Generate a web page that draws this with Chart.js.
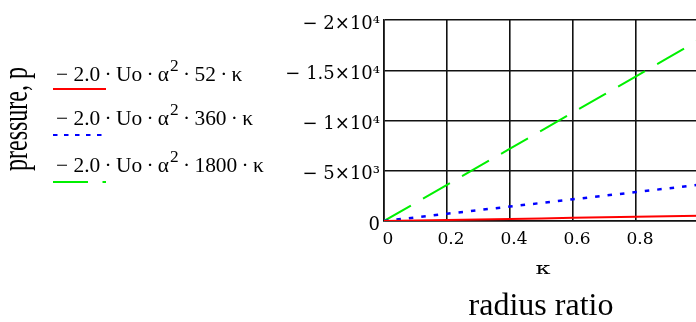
<!DOCTYPE html>
<html>
<head>
<meta charset="utf-8">
<script src="https://cdn.jsdelivr.net/npm/chart.js@4.4.1/dist/chart.umd.min.js"></script>
<style>
  html, body { margin:0; padding:0; background:#fff; overflow:hidden; }
  #wrap { width:720px; height:322px; }
</style>
</head>
<body>
<div id="wrap"><canvas id="chart" width="720" height="322"></canvas></div>
<script>
// radius ratio samples and the three pressure curves
const kappa = [0, 0.1, 0.2, 0.3, 0.4, 0.5, 0.6, 0.7, 0.8, 0.9, 1.0];
const p52   = [0, -52, -104, -156, -208, -260, -312, -364, -416, -468, -520];
const p360  = [0, -360, -720, -1080, -1440, -1800, -2160, -2520, -2880, -3240, -3600];
const p1800 = [0, -1800, -3600, -5400, -7200, -9000, -10800, -12600, -14400, -16200, -18000];

const seriesNames = [
  '\u2212 2.0\u2009\u00b7\u2009Uo\u2009\u00b7\u2009\u03b1\u00b2\u2009\u00b7\u200952\u2009\u00b7\u2009\u03ba',
  '\u2212 2.0\u2009\u00b7\u2009Uo\u2009\u00b7\u2009\u03b1\u00b2\u2009\u00b7\u2009360\u2009\u00b7\u2009\u03ba',
  '\u2212 2.0\u2009\u00b7\u2009Uo\u2009\u00b7\u2009\u03b1\u00b2\u2009\u00b7\u20091800\u2009\u00b7\u2009\u03ba'
];
const yTicks = [0, -5000, -10000, -15000, -20000];
const yTickLabels = ['0', '\u2212 5\u00d710\u00b3', '\u2212 1\u00d710\u2074', '\u2212 1.5\u00d710\u2074', '\u2212 2\u00d710\u2074'];
const xTicks = [0, 0.2, 0.4, 0.6, 0.8, 1];

const pts = arr => kappa.map((k, i) => ({x: k, y: arr[i]}));

// legend + axis titles drawn beside the plot, Mathcad style
const extras = {
  id: 'extras',
  afterDraw(chart){
    const ctx = chart.ctx;
    const rows = [{t:81, l:89}, {t:125, l:135}, {t:172, l:182}];
    ctx.save();
    chart.data.datasets.forEach((ds, i) => {
      // text with a real raised superscript for the "²"
      const [a, b] = ds.label.split('\u00b2');
      ctx.save();
      ctx.translate(56, rows[i].t);
      ctx.scale(1.02, 1);
      ctx.fillStyle = '#000';
      ctx.textAlign = 'left';
      ctx.textBaseline = 'alphabetic';
      ctx.font = '21px "Liberation Serif"';
      ctx.fillText(a, 0, 0);
      let x = ctx.measureText(a).width + 1;
      ctx.font = '17px "Liberation Serif"';
      ctx.fillText('2', x, -10);
      x += ctx.measureText('2').width;
      ctx.font = '21px "Liberation Serif"';
      ctx.fillText(b, x, 0);
      ctx.restore();

      ctx.beginPath();
      ctx.strokeStyle = ds.borderColor;
      ctx.lineWidth = 2;
      ctx.setLineDash(ds.legendDash || []);
      ctx.moveTo(53, rows[i].l);
      ctx.lineTo(106, rows[i].l);
      ctx.stroke();
      ctx.setLineDash([]);
    });

    // y title
    ctx.save();
    ctx.translate(21, 119);
    ctx.rotate(-Math.PI/2);
    ctx.scale(1, 1.5);
    ctx.font = '24px "Liberation Serif"';
    ctx.textAlign = 'center';
    ctx.textBaseline = 'middle';
    ctx.fillStyle = '#000';
    ctx.fillText('pressure, p', 0, -2);
    ctx.restore();

    // x titles
    ctx.save();
    ctx.translate(543, 274);
    ctx.scale(1.5, 1);
    ctx.font = '16px "DejaVu Serif"';
    ctx.textAlign = 'center';
    ctx.textBaseline = 'alphabetic';
    ctx.fillText('\u03ba', 0, 0);
    ctx.restore();

    ctx.font = '32px "Liberation Serif"';
    ctx.textAlign = 'center';
    ctx.textBaseline = 'alphabetic';
    ctx.fillText('radius ratio', 541, 315);
    ctx.restore();
  }
};

new Chart(document.getElementById('chart'), {
  type: 'line',
  data: {
    datasets: [
      { label: seriesNames[0], data: pts(p52), borderColor: '#ff0000', borderWidth: 2, legendDash: [] },
      { label: seriesNames[1], data: pts(p360), borderColor: '#0000ff', borderWidth: 2.5, borderDash: [4.5, 8], legendDash: [4.5, 6.5] },
      { label: seriesNames[2], data: pts(p1800), borderColor: '#00f000', borderWidth: 2, borderDash: [31, 14], legendDash: [35, 14.5] }
    ]
  },
  options: {
    responsive: false,
    animation: false,
    devicePixelRatio: 1,
    layout: { padding: { left: 0, top: 20, right: 21, bottom: 0 } },
    elements: { point: { radius: 0 }, line: { tension: 0 } },
    plugins: { legend: { display: false }, tooltip: { enabled: false } },
    scales: {
      x: {
        type: 'linear', min: 0, max: 1,
        afterBuildTicks: s => { s.ticks = xTicks.map(v => ({value: v})); },
        afterFit: s => { s.height = 101; },
        grid: { color: '#111', lineWidth: 1.6, drawTicks: false },
        border: { color: '#111', width: 1.6 },
        ticks: {
          padding: 8, labelOffset: 4, maxRotation: 0,
          color: '#000', font: { family: 'DejaVu Serif', size: 17 },
          callback: v => String(+v.toFixed(1))
        }
      },
      y: {
        type: 'linear', min: -20000, max: 0, reverse: true,
        afterBuildTicks: s => { s.ticks = yTicks.map(v => ({value: v})); },
        afterFit: s => { s.width = 384; },
        grid: { color: '#111', lineWidth: 1.4, drawTicks: false },
        border: { color: '#111', width: 1.6 },
        ticks: {
          padding: 4, labelOffset: 4,
          color: '#000', font: { family: 'DejaVu Serif', size: 18 },
          callback: v => { const i = yTicks.indexOf(v); return i >= 0 ? yTickLabels[i] : ''; }
        }
      }
    }
  },
  plugins: [extras]
});
</script>
</body>
</html>
